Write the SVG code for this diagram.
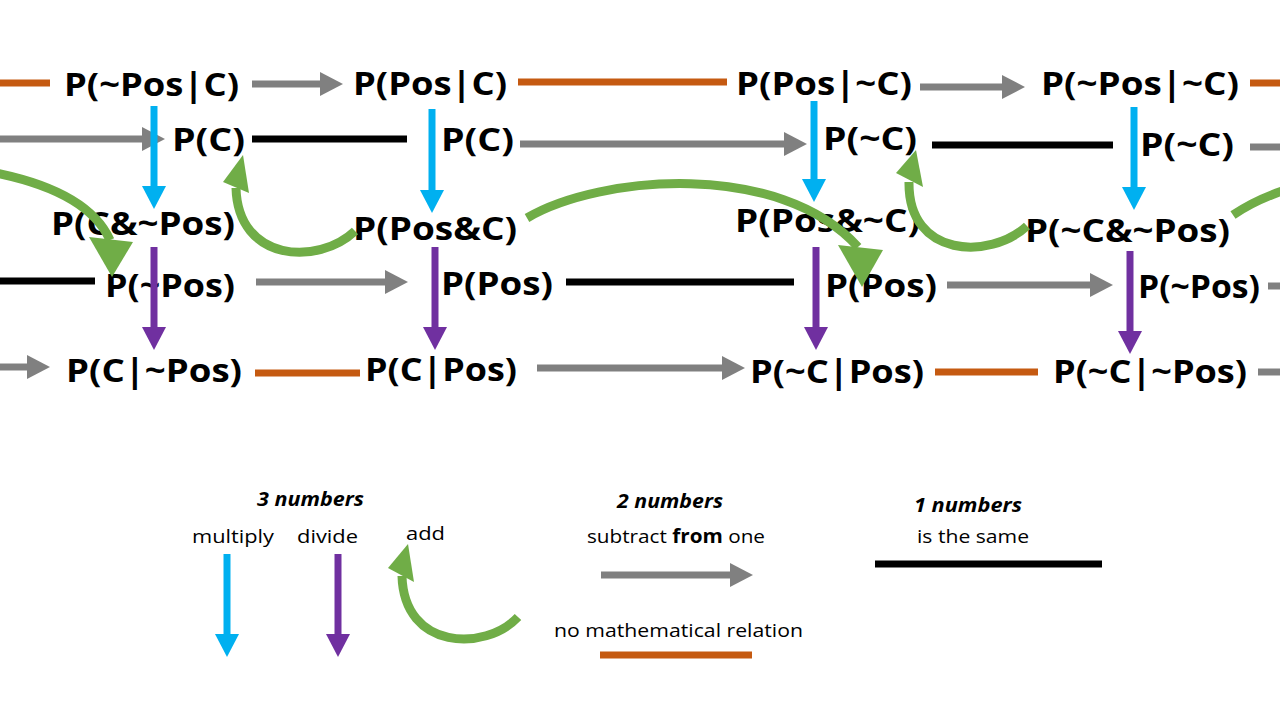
<svg xmlns="http://www.w3.org/2000/svg" width="1280" height="720" viewBox="0 0 1280 720">
<style>
.lbl{font-family:"Open Sans","Liberation Sans",sans-serif;font-weight:700;font-size:32px;fill:#000}
.sm{font-family:"Open Sans","Liberation Sans",sans-serif;font-weight:400;font-size:19px;fill:#000}
.smb{font-family:"Open Sans","Liberation Sans",sans-serif;font-weight:700;font-style:italic;font-size:19px;fill:#000}
.g{stroke:#808080;stroke-width:7;fill:none}
.o{stroke:#C55A11;stroke-width:7;fill:none}
.k{stroke:#000;stroke-width:7;fill:none}
.b{stroke:#00B0F0;stroke-width:7;fill:none}
.p{stroke:#7030A0;stroke-width:7;fill:none}
.gr{stroke:#70AD47;stroke-width:9;fill:none}
.grh{fill:#70AD47}
</style>
<defs>
<marker id="mg" viewBox="0 0 23 24" refX="1" refY="12" markerWidth="23" markerHeight="24" markerUnits="userSpaceOnUse" orient="auto"><path d="M0,0 L23,12 L0,24 z" fill="#808080"/></marker>
<marker id="mb" viewBox="0 0 23 24" refX="1" refY="12" markerWidth="23" markerHeight="24" markerUnits="userSpaceOnUse" orient="auto"><path d="M0,0 L23,12 L0,24 z" fill="#00B0F0"/></marker>
<marker id="mp" viewBox="0 0 23 24" refX="1" refY="12" markerWidth="23" markerHeight="24" markerUnits="userSpaceOnUse" orient="auto"><path d="M0,0 L23,12 L0,24 z" fill="#7030A0"/></marker>
</defs>
<rect width="1280" height="720" fill="#fff"/>

<g id="nodes">
<g id="n1"><text class="lbl" x="64" y="96" textLength="175" lengthAdjust="spacingAndGlyphs">P(~Pos|C)</text></g>
<g id="n2"><text class="lbl" x="353" y="95" textLength="154" lengthAdjust="spacingAndGlyphs">P(Pos|C)</text></g>
<g id="n3"><text class="lbl" x="736" y="95" textLength="176" lengthAdjust="spacingAndGlyphs">P(Pos|~C)</text></g>
<g id="n4"><text class="lbl" x="1041" y="95" textLength="198" lengthAdjust="spacingAndGlyphs">P(~Pos|~C)</text></g>
<g id="n5"><text class="lbl" x="172" y="151" textLength="73" lengthAdjust="spacingAndGlyphs">P(C)</text></g>
<g id="n6"><text class="lbl" x="441" y="151" textLength="73" lengthAdjust="spacingAndGlyphs">P(C)</text></g>
<g id="n7"><text class="lbl" x="823" y="150" textLength="94" lengthAdjust="spacingAndGlyphs">P(~C)</text></g>
<g id="n8"><text class="lbl" x="1140" y="156" textLength="94" lengthAdjust="spacingAndGlyphs">P(~C)</text></g>
<g id="n9"><text class="lbl" x="51" y="235" textLength="184" lengthAdjust="spacingAndGlyphs">P(C&amp;~Pos)</text></g>
<g id="n10"><text class="lbl" x="353" y="240" textLength="164" lengthAdjust="spacingAndGlyphs">P(Pos&amp;C)</text></g>
<g id="n11"><text class="lbl" x="735" y="232" textLength="185" lengthAdjust="spacingAndGlyphs">P(Pos&amp;~C)</text></g>
<g id="n12"><text class="lbl" x="1025" y="242" textLength="205" lengthAdjust="spacingAndGlyphs">P(~C&amp;~Pos)</text></g>
<g id="n13"><text class="lbl" x="105" y="297" textLength="130" lengthAdjust="spacingAndGlyphs">P(~Pos)</text></g>
<g id="n14"><text class="lbl" x="441" y="295" textLength="112" lengthAdjust="spacingAndGlyphs">P(Pos)</text></g>
<g id="n15"><text class="lbl" x="825" y="297" textLength="112" lengthAdjust="spacingAndGlyphs">P(Pos)</text></g>
<g id="n16"><text class="lbl" x="1138" y="298" textLength="122" lengthAdjust="spacingAndGlyphs">P(~Pos)</text></g>
<g id="n17"><text class="lbl" x="66" y="382" textLength="176" lengthAdjust="spacingAndGlyphs">P(C|~Pos)</text></g>
<g id="n18"><text class="lbl" x="365" y="381" textLength="152" lengthAdjust="spacingAndGlyphs">P(C|Pos)</text></g>
<g id="n19"><text class="lbl" x="750" y="383" textLength="174" lengthAdjust="spacingAndGlyphs">P(~C|Pos)</text></g>
<g id="n20"><text class="lbl" x="1053" y="383" textLength="194" lengthAdjust="spacingAndGlyphs">P(~C|~Pos)</text></g>
</g>

<g id="connectors">
<!-- no mathematical relation -->
<line class="o" x1="0" y1="83" x2="50" y2="83"/>
<line class="o" x1="518" y1="82" x2="727" y2="82"/>
<line class="o" x1="1250" y1="83" x2="1280" y2="83"/>
<line class="o" x1="255" y1="373" x2="360" y2="373"/>
<line class="o" x1="935" y1="372" x2="1038" y2="372"/>
<!-- is the same -->
<line class="k" x1="252" y1="139" x2="407" y2="139"/>
<line class="k" x1="932" y1="145" x2="1113" y2="145"/>
<line class="k" x1="0" y1="281" x2="95" y2="281"/>
<line class="k" x1="566" y1="282" x2="794" y2="282"/>
<!-- subtract from one -->
<line class="g" x1="252" y1="84" x2="321" y2="84" marker-end="url(#mg)"/>
<line class="g" x1="920" y1="87" x2="1003" y2="87" marker-end="url(#mg)"/>
<line class="g" x1="0" y1="139" x2="143" y2="139" marker-end="url(#mg)"/>
<line class="g" x1="520" y1="144" x2="785" y2="144" marker-end="url(#mg)"/>
<line class="g" x1="256" y1="282" x2="386" y2="282" marker-end="url(#mg)"/>
<line class="g" x1="947" y1="285" x2="1091" y2="285" marker-end="url(#mg)"/>
<line class="g" x1="0" y1="367" x2="28" y2="367" marker-end="url(#mg)"/>
<line class="g" x1="537" y1="368" x2="723" y2="368" marker-end="url(#mg)"/>
<line class="g" x1="1250" y1="147" x2="1280" y2="147"/>
<line class="g" x1="1268" y1="286" x2="1280" y2="286"/>
<line class="g" x1="1258" y1="372" x2="1280" y2="372"/>
<!-- multiply -->
<line class="b" x1="154" y1="106" x2="154" y2="187" marker-end="url(#mb)"/>
<line class="b" x1="432" y1="109" x2="432" y2="191" marker-end="url(#mb)"/>
<line class="b" x1="814" y1="101" x2="814" y2="180" marker-end="url(#mb)"/>
<line class="b" x1="1134" y1="107" x2="1134" y2="188" marker-end="url(#mb)"/>
<!-- divide -->
<line class="p" x1="154" y1="247" x2="154" y2="328" marker-end="url(#mp)"/>
<line class="p" x1="435" y1="247" x2="435" y2="328" marker-end="url(#mp)"/>
<line class="p" x1="816" y1="247" x2="816" y2="328" marker-end="url(#mp)"/>
<line class="p" x1="1130" y1="251" x2="1130" y2="332" marker-end="url(#mp)"/>
<!-- add -->
<path class="gr" d="M -20,170 C 40,180 92,200 110,240"/>
<polygon class="grh" points="89,237 133,242 112,277"/>
<path class="gr" d="M 527,218 C 600,175 780,160 858,247"/>
<polygon class="grh" points="838,245 883,250 862,287"/>
<path class="gr" d="M 355,231 C 318,266 238,262 236,188"/>
<polygon class="grh" points="223,182 249,193 243,155"/>
<path class="gr" d="M 1027,226 C 990,260 908,258 909,182"/>
<polygon class="grh" points="896,173 923,187 916,150"/>
<path class="gr" d="M 1233,215 Q 1255,200 1285,190"/>
</g>

<g id="legend">
<text class="smb" x="257" y="506" textLength="107" lengthAdjust="spacingAndGlyphs">3 numbers</text>
<text class="sm" x="192" y="543" textLength="82" lengthAdjust="spacingAndGlyphs">multiply</text>
<text class="sm" x="297" y="543" textLength="61" lengthAdjust="spacingAndGlyphs">divide</text>
<text class="sm" x="406" y="540" textLength="39" lengthAdjust="spacingAndGlyphs">add</text>
<line class="b" x1="227" y1="554" x2="227" y2="635" marker-end="url(#mb)"/>
<line class="p" x1="338" y1="554" x2="338" y2="635" marker-end="url(#mp)"/>
<path class="gr" d="M 518,617 C 485,652 404,650 402,576"/>
<polygon class="grh" points="388,568 414,582 408,544"/>
<text class="smb" x="617" y="508" textLength="106" lengthAdjust="spacingAndGlyphs">2 numbers</text>
<text class="sm" x="587" y="543" textLength="178" lengthAdjust="spacingAndGlyphs">subtract <tspan font-weight="700">from</tspan> one</text>
<line class="g" x1="601" y1="575" x2="731" y2="575" marker-end="url(#mg)"/>
<text class="sm" x="554" y="637" textLength="249" lengthAdjust="spacingAndGlyphs">no mathematical relation</text>
<line class="o" x1="600" y1="655" x2="752" y2="655"/>
<text class="smb" x="914" y="512" textLength="108" lengthAdjust="spacingAndGlyphs">1 numbers</text>
<text class="sm" x="917" y="543" textLength="112" lengthAdjust="spacingAndGlyphs">is the same</text>
<line class="k" x1="875" y1="564" x2="1102" y2="564"/>
</g>
</svg>
